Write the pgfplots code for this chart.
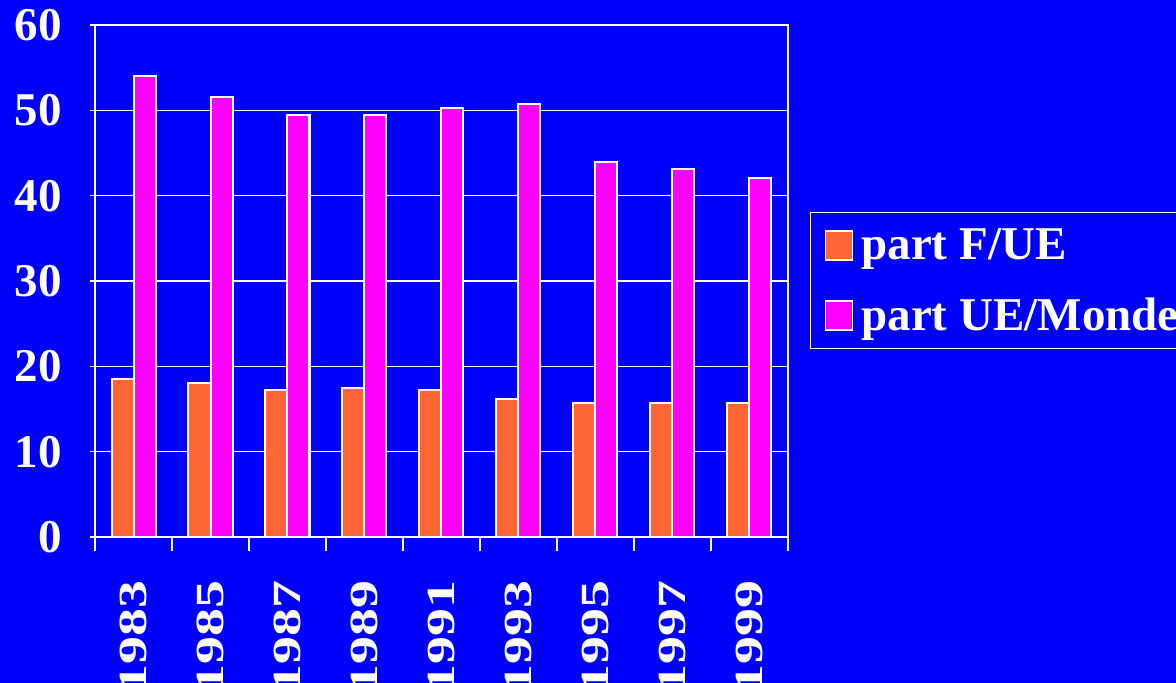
\documentclass[border=0pt]{standalone}
\usepackage{pgfplots}
\pgfplotsset{compat=1.18}
\usepackage{fontspec}
\setmainfont{Liberation Serif}
\definecolor{bgblue}{HTML}{0000FF}
\definecolor{mag}{HTML}{FF00FF}
\definecolor{org}{HTML}{FF6633}
\newcommand\yr[1]{\scalebox{1.19}[0.85]{#1}}
\pgfplotstableread{
x fue uem
0 18.5 54.0
1 18.0 51.6
2 17.2 49.5
3 17.5 49.5
4 17.2 50.3
5 16.2 50.7
6 15.7 44.0
7 15.7 43.1
8 15.7 42.1
}\data
\begin{document}
\begin{tikzpicture}
\fill[bgblue, use as bounding box] (0pt,0pt) rectangle (1176pt,683pt);
\begin{axis}[
  at={(95pt,146pt)}, anchor=south west,
  scale only axis, width=693pt, height=512pt,
  xmin=-0.5, xmax=8.5, ymin=0, ymax=60,
  ytick={0,10,...,60},
  xtick={0,...,8},
  xticklabels={\yr{1983},\yr{1985},\yr{1987},\yr{1989},\yr{1991},\yr{1993},\yr{1995},\yr{1997},\yr{1999}},
  minor xtick={-0.5,0.5,...,8.5},
  axis line style={white, line width=1.5pt},
  ymajorgrids, grid style={white, line width=1.5pt},
  tick align=outside, major tick length=5pt, minor tick length=14pt,
  major x tick style={draw=none},
  minor x tick style={white, line width=1.5pt},
  major y tick style={white, line width=1.5pt},
  xtick pos=bottom, ytick pos=left,
  /pgf/number format/assume math mode=true,
  tick label style={text=white, font=\fontsize{47}{56}\selectfont\bfseries},
  xticklabel style={rotate=90, anchor=east, inner sep=0pt},
  xticklabel shift=38pt,
  yticklabel style={inner sep=0pt},
  yticklabel shift=28pt,
  ybar=0pt, bar width=22pt,
  legend style={at={(1.0317,0.6348)}, anchor=north west, draw=white, line width=1.5pt,
    fill=bgblue, text=white, font=\fontsize{47}{56}\selectfont\bfseries,
    cells={anchor=west}, inner xsep=14pt, inner ysep=14pt, row sep=33pt},
  legend entries={part F/UE, part UE/Monde},
]
\addplot[fill=org, draw=white, line width=2pt,
  legend image code/.code={\filldraw[fill=org, draw=white, line width=1.5pt] (0pt,-15pt) rectangle (27pt,14pt); \path[draw=none, fill=none] (0pt,-1pt) rectangle (34pt,1pt);}]
  table[x=x, y=fue] {\data};
\addplot[fill=mag, draw=white, line width=2pt,
  legend image code/.code={\filldraw[fill=mag, draw=white, line width=1.5pt] (0pt,-15pt) rectangle (27pt,14pt); \path[draw=none, fill=none] (0pt,-1pt) rectangle (34pt,1pt);}]
  table[x=x, y=uem] {\data};
\end{axis}
\end{tikzpicture}
\end{document}
